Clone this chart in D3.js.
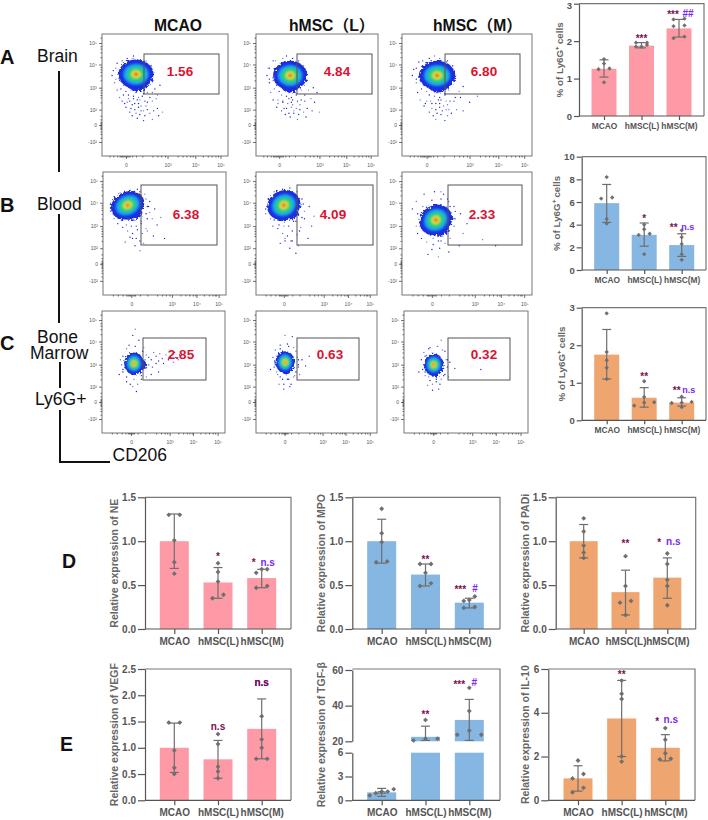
<!DOCTYPE html>
<html><head><meta charset="utf-8">
<script src="https://cdn.jsdelivr.net/npm/d3@7/dist/d3.min.js"></script>
<style>html,body{margin:0;padding:0;background:#fff}svg{display:block}text{font-family:"Liberation Sans","Noto Sans CJK SC",sans-serif}</style>
</head><body><svg id="c" width="708" height="820"></svg>
<script>
// ---------- values ----------
const categories=["MCAO","hMSC(L)","hMSC(M)"];
const brainMean=[1.26,1.88,2.34], brainLow=[1.04,1.82,2.11], brainHigh=[1.5,1.96,2.58];
const brainPts=[[1.52,1.4,1.27,1.25,0.9],[1.96,1.96,1.9,1.85,1.85],[2.6,2.58,2.42,2.4,2.12,2.08]];
const bloodMean=[5.9,3.1,2.2], bloodLow=[4.2,2.1,1.2], bloodHigh=[7.55,4.15,3.2];
const bloodPts=[[8.2,6.4,6.3,4.5,4.1],[4.0,3.6,3.2,3.1,1.4],[3.5,2.9,2.3,1.4,0.9]];
const marrowMean=[1.75,0.6,0.47], marrowLow=[1.1,0.35,0.38], marrowHigh=[2.42,0.87,0.6];
const marrowPts=[[2.85,1.82,1.6,1.4,1.1],[1.04,0.62,0.48,0.47,0.39],[0.63,0.49,0.47,0.46,0.35]];
const neMean=[1,0.53,0.58], neLow=[0.69,0.35,0.47], neHigh=[1.31,0.7,0.68];
const nePts=[[1.3,1.3,1.01,0.76,0.63],[0.75,0.65,0.54,0.39,0.35],[0.68,0.68,0.64,0.49,0.47]];
const mpoMean=[1,0.62,0.3], mpoLow=[0.75,0.49,0.24], mpoHigh=[1.25,0.74,0.35];
const mpoPts=[[1.37,1.09,0.99,0.77,0.76],[0.74,0.74,0.64,0.52,0.49],[0.37,0.33,0.32,0.25,0.24]];
const padiMean=[1,0.42,0.585], padiLow=[0.81,0.16,0.35], padiHigh=[1.19,0.67,0.81];
const padiPts=[[1.26,1.11,0.95,0.87,0.81],[0.83,0.49,0.32,0.3,0.16],[0.86,0.74,0.56,0.49,0.27]];
const vegfMean=[1,0.78,1.36], vegfLow=[0.53,0.42,0.79], vegfHigh=[1.47,1.14,1.93];
const vegfPts=[[1.48,1.48,0.95,0.62,0.5],[1.26,1.07,0.64,0.55,0.42],[1.6,1.16,1.0,0.79,0.79]];
const tgfMean=[1,22.5,32], tgfLow=[0.5,20.5,20.5], tgfHigh=[1.5,28.5,43.5];
const tgfPts=[[1.4,1.1,1.1,0.9,0.6],[32,21.5,21.5,20.5],[50,37,26,23.7,23.7]];
const il10Mean=[1,3.74,2.4], il10Low=[0.42,2,1.8], il10High=[1.58,5.48,3];
const il10Pts=[[1.82,1.2,1,0.57,0.37],[5.47,4.87,4.63,2,1.77],[3.3,2.77,2.15,1.9,1.87]];
const gatePct=[["1.56","4.84","6.80"],["6.38","4.09","2.33"],["2.85","0.63","0.32"]];
const yChanTicks=[11.5,25.4,38,56,75,92.6], yChanLabels=["-10²","0","10²","10³","10⁴","10⁵"];
const xChanTicks=[[19,52,74,94],[23,56,76,94],[23.6,55,74,94]], xChanLabels=["0","10³","10⁴","10⁵"];
const yChanMinor=[15,18,20,22,23,24,25,26,27,28,30,33,44,48,50,52,54,62,66,69,71,73,81,85,88,90,97];
const xChanMinor=[[6,9,12,14,15,16,17,18,20,21,22,24,27,32,40,44,47,50,60,64,67,70,72,80,84,87,90,92],[8,12,16,19,20,21,22,24,25,26,30,36,44,48,51,54,63,67,70,73,75,82,86,89,91,92],[8,12,16,19,21,22,23,24,25,26,29,35,44,48,51,53,62,66,69,71,73,80,84,87,90,92]];
// flow populations, in display channels (0-100): centre x, centre y, radius x, radius y, tilt
const popA=[[27,67,14,12,0],[28,66,14,12,0],[27,66,14,12,0]];
const popB=[[20,73,14,11,-25],[23,73,14,12,-25],[26,61,13,12,-30]];
const popC=[[26,57,8,9,0],[24,58,8,9,0],[24,56,8,9,0]];
// extra low-density lobes below each population: centre x, centre y, radius x, radius y
const lobeA=[[28,60,8,7],[28,59,8,7],[28,59,8,7]];
const lobeB=[[22,67,10,6],[25,67,10,6],[28,54,8,6]];
const lobeC=[[30,56,6,5],[25,54,5,6],[25,52,5,6]];
const tailA=[[15,55],[17,58],[19,53],[21,50],[23,54],[25,49],[27,52],[29,48],[31,53],[33,51],[35,56],[37,58],[14,62],[11,63],[38,69],[39,74],[35,78],[25,82],[16,78],[11,72],[22,45],[26,43],[30,46],[34,45],[18,43],[40,45],[36,38],[31,37],[27,35],[23,39],[29,40]];
const tailB=[[12,66],[15,61],[19,57],[23,56],[27,56],[31,60],[35,66],[37,72],[35,78],[30,84],[25,84],[17,82],[11,76],[8,70],[40,62],[24,46],[30,44],[36,52]];
const tailC=[[16,56],[17,50],[20,46],[26,44],[32,47],[35,54],[35,60],[33,67],[27,71],[20,69],[17,63],[23,40],[29,40]];
const dotsA1=[[20,44],[24,42],[28,46],[31,41],[26,38],[22,36],[33,37],[36,44],[38,48],[40,52],[42,55],[46,58],[44,50],[34,33],[30,34],[38,35],[41,37],[44,39],[48,36],[19,40],[16,45],[14,48],[12,54],[36,60],[37,65],[36,70],[39,62],[43,47],[28,31],[33,29],[40,30],[45,33],[24,33],[35,41],[29,43],[25,47],[21,47],[17,50],[32,49],[36,52],[8,66],[9,70],[10,60],[12,76],[20,80],[28,79],[33,76]];
const dotsA2=[[18,46],[22,44],[27,47],[30,42],[25,39],[21,37],[33,39],[37,46],[40,50],[43,54],[47,56],[50,52],[45,47],[35,34],[31,35],[39,36],[42,39],[46,37],[52,36],[17,40],[14,46],[12,52],[38,60],[39,66],[38,72],[42,62],[28,32],[34,30],[41,32],[24,34],[36,42],[29,44],[33,50],[37,54],[48,44],[9,66],[10,72],[11,60],[14,78],[22,80],[30,80],[35,76]];
const dotsA3=[[19,45],[23,43],[28,46],[32,41],[26,38],[21,36],[34,38],[37,45],[41,48],[44,53],[47,57],[45,48],[35,33],[30,34],[38,35],[42,38],[47,37],[17,41],[14,46],[12,52],[36,60],[37,66],[37,71],[41,62],[26,30],[33,29],[24,33],[35,42],[29,43],[33,50],[36,54],[8,66],[9,71],[11,60],[13,77],[21,80],[29,80],[34,77],[52,44],[58,49]];
const dotsB1=[[9,62],[12,58],[16,55],[20,52],[24,50],[28,53],[32,50],[27,46],[22,47],[35,54],[31,58],[36,62],[38,67],[36,72],[38,76],[34,82],[28,86],[22,85],[14,83],[9,80],[6,74],[6,68],[18,43],[26,40],[33,42],[41,48],[44,57],[47,63],[42,70],[50,46],[30,36]];
const dotsB2=[[12,62],[14,56],[18,54],[22,50],[26,48],[30,52],[34,49],[29,44],[24,44],[37,55],[33,60],[38,63],[40,68],[39,74],[38,78],[34,84],[28,87],[22,86],[15,84],[10,78],[9,72],[8,66],[20,42],[28,38],[35,40],[43,46],[46,56],[48,64],[44,72],[33,34]];
const dotsB3=[[11,56],[12,50],[15,46],[19,43],[24,41],[28,44],[33,42],[29,38],[23,37],[37,46],[36,52],[40,56],[41,62],[41,68],[40,72],[36,76],[30,78],[23,77],[16,72],[12,66],[20,33],[28,31],[36,35],[44,40],[47,50],[50,58],[45,66],[62,45],[72,40],[32,82]];
const dotsC1=[[36,64],[38,62],[40,60],[42,66],[44,63],[46,59],[38,56],[41,54],[44,57],[47,65],[49,61],[50,57],[52,64],[54,60],[56,62],[58,58],[59,66],[60,62],[62,60],[63,64],[35,53],[34,70],[30,76],[25,80],[27,85],[22,72],[17,52],[15,60],[14,48],[20,42],[25,38],[28,34],[32,44],[36,46],[40,48],[46,50]];
const dotsC2=[[34,62],[35,56],[33,50],[31,46],[27,44],[22,44],[18,48],[15,54],[14,62],[16,68],[20,72],[26,73],[31,70],[38,60],[41,55],[36,48],[28,38],[23,36],[19,40],[44,63],[30,79],[24,80],[12,52]];
const dotsC3=[[34,60],[35,54],[33,48],[30,44],[26,42],[21,43],[17,47],[15,52],[14,60],[16,66],[21,70],[27,71],[31,68],[37,58],[41,53],[36,46],[28,36],[23,35],[19,39],[62,52],[12,50],[30,76]];
const flowDots=[[dotsA1,dotsA2,dotsA3],[dotsB1,dotsB2,dotsB3],[dotsC1,dotsC2,dotsC3]];

// ---------- layout ----------
const svg=d3.select("#c");
const defs=svg.append("defs");
const rough=defs.append("filter").attr("id","rough").attr("x","-40%").attr("y","-40%").attr("width","180%").attr("height","180%");
rough.append("feTurbulence").attr("type","fractalNoise").attr("baseFrequency",0.5).attr("numOctaves",2).attr("seed",4).attr("result","n");
rough.append("feDisplacementMap").attr("in","SourceGraphic").attr("in2","n").attr("scale",6);
const soft=defs.append("filter").attr("id","soft").attr("x","-30%").attr("y","-30%").attr("width","160%").attr("height","160%");
soft.append("feGaussianBlur").attr("stdDeviation",1);

const rows=[
 {pop:popA,lobe:lobeA,tail:tailA,top:34,bot:156,x:[[102,228],[256,378],[402,532]],gx:[[144,219],[297,372],[445,520]],gy:[54,94],ly:71,lx:[180,337,484]},
 {pop:popB,lobe:lobeB,tail:tailB,top:172,bot:295,x:[[103,226],[256,377],[402,532]],gx:[[141,217],[297,373],[448,522]],gy:[185,245],ly:214,lx:[186,333,482]},
 {pop:popC,lobe:lobeC,tail:tailC,top:311,bot:433,x:[[102,225],[256,377],[404,528]],gx:[[143,206],[297,359],[448,510]],gy:[338,380],ly:354,lx:[181,330,484]}];
const densityLevels=[[1,"#1c2fe0"],[0.72,"#14a4f0"],[0.52,"#2ccf78"],[0.27,"#e8e030"],[0.12,"#e8402a"]];
rows.forEach((r,ri)=>r.x.forEach((xr,ci)=>{
  const g=svg.append("g");
  const xs=d3.scaleLinear().domain([0,100]).range(xr), ys=d3.scaleLinear().domain([0,100]).range([r.bot,r.top]);
  g.selectAll("circle.d").data(flowDots[ri][ci].concat(r.tail)).join("circle").attr("cx",d=>xs(d[0])).attr("cy",d=>ys(d[1]))
    .attr("r",0.7).attr("fill",(d,i)=>i%3==0?"#6677f0":"#1c28c8");
  const p=r.pop[ci], lb=r.lobe[ci];
  const kx=(xr[1]-xr[0])/100, ky=(r.bot-r.top)/100;
  const rf=g.append("g").attr("filter","url(#rough)");
  rf.append("ellipse").attr("cx",xs(lb[0])).attr("cy",ys(lb[1])).attr("rx",lb[2]*kx).attr("ry",lb[3]*ky).attr("fill",densityLevels[0][1]);
  rf.append("ellipse").attr("rx",p[2]*kx).attr("ry",p[3]*ky).attr("fill",densityLevels[0][1])
    .attr("transform",`translate(${xs(p[0])},${ys(p[1])}) rotate(${p[4]})`);
  g.append("g").attr("transform",`translate(${xs(p[0])},${ys(p[1])}) rotate(${p[4]})`).attr("filter","url(#soft)")
    .selectAll("ellipse").data(densityLevels.slice(1)).join("ellipse")
    .attr("rx",d=>d[0]*p[2]*kx).attr("ry",d=>d[0]*p[3]*ky).attr("fill",d=>d[1]);
  // frame, axes
  g.append("rect").attr("x",xr[0]).attr("y",r.top).attr("width",xr[1]-xr[0]).attr("height",r.bot-r.top).attr("fill","none").attr("stroke","#777").attr("stroke-width",1);
  const ay=d3.axisLeft(ys).tickValues(yChanTicks).tickFormat((d,i)=>yChanLabels[i]).tickSize(3).tickPadding(2);
  const ax=d3.axisBottom(xs).tickValues(xChanTicks[ri]).tickFormat((d,i)=>xChanLabels[i]).tickSize(3).tickPadding(4);
  const ga=g.append("g").attr("transform",`translate(${xr[0]},0)`).call(ay);
  const gb=g.append("g").attr("transform",`translate(0,${r.bot})`).call(ax);
  const gm1=g.append("g").attr("transform",`translate(${xr[0]},0)`).call(d3.axisLeft(ys).tickValues(yChanMinor).tickFormat("").tickSize(1.5));
  const gm2=g.append("g").attr("transform",`translate(0,${r.bot})`).call(d3.axisBottom(xs).tickValues(xChanMinor[ri]).tickFormat("").tickSize(1.5));
  [ga,gb,gm1,gm2].forEach(s=>{s.select(".domain").remove();s.selectAll("line").attr("stroke","#333").attr("stroke-width",0.7);s.selectAll("text").attr("font-size",5).attr("fill","#555");});
  // gate and frequency
  g.append("rect").attr("x",r.gx[ci][0]).attr("y",r.gy[0]).attr("width",r.gx[ci][1]-r.gx[ci][0]).attr("height",r.gy[1]-r.gy[0]).attr("fill","none").attr("stroke","#555").attr("stroke-width",1);
  g.append("text").attr("x",r.lx[ci]).attr("y",r.ly+5).attr("text-anchor","middle").attr("font-size",13.5).attr("font-weight","bold").attr("fill","#dc1230").text(gatePct[ri][ci]);
}));

// column titles and left labels
const label=(x,y,t,fs,w,a)=>svg.append("text").attr("x",x).attr("y",y).attr("font-size",fs).attr("font-weight",w||"normal").attr("text-anchor",a||"start").attr("fill","#111").text(t);
label(178,31,"MCAO",15.7,"bold","middle");label(289,31,"hMSC（L）",15.7,"bold");label(433,31,"hMSC（M）",15.7,"bold");
label(0,64,"A",20,"bold");label(0,212,"B",20,"bold");label(0,350,"C",20,"bold");
label(37,62,"Brain",17.5);label(37,210,"Blood",17.5);label(37,343,"Bone",17.5);label(30,359,"Marrow",17.5);label(35,405,"Ly6G+",17.5);label(112.5,461,"CD206",17.5);
label(62,568,"D",19.5,"bold");label(60,751,"E",19.5,"bold");
[[59,71,59,172],[59,214,59,323],[60,362,60,388],[60,410,60,462],[59,462,110,462]].forEach(l=>
  svg.append("line").attr("x1",l[0]).attr("y1",l[1]).attr("x2",l[2]).attr("y2",l[3]).attr("stroke","#111").attr("stroke-width",2));

// ---------- bar panels ----------
const pink="#fe9aa6", blue="#86b6e2", orange="#eea570";
const dark="#7a0f50", purple="#7a28f0";
const panels=[
 {title:"% of Ly6G⁺ cells",mean:brainMean,low:brainLow,high:brainHigh,pts:brainPts,color:pink,dom:[0,3],ticks:[0,1,2,3],fmt:"d",box:[579,704,3.7,116],c:[604,679],w:25,ylx:563,fs:8.4,tfs:9.5,small:true,thr:2,nudgeTop:2.2,
  ann:[["***",1,2.09,0,dark],["***",2,2.73,-6,dark],["##",2,2.73,9,purple]]},
 {title:"% of Ly6G⁺ cells",mean:bloodMean,low:bloodLow,high:bloodHigh,pts:bloodPts,color:blue,dom:[0,10],ticks:[0,2,4,6,8,10],fmt:"d",box:[581.7,706,156.7,270],c:[606.7,681.7],w:25,ylx:560,fs:8.4,tfs:9.5,small:true,
  ann:[["*",1,4.6,0,dark],["**",2,3.83,-8,dark],["n.s",2,3.83,6,purple]]},
 {title:"% of Ly6G⁺ cells",mean:marrowMean,low:marrowLow,high:marrowHigh,pts:marrowPts,color:orange,dom:[0,3],ticks:[0,1,2,3],fmt:"d",box:[581.7,706,307.7,420.3],c:[606.7,681.7],w:25,ylx:565,fs:8.4,tfs:9.5,small:true,wide:10,
  ann:[["**",1,1.19,0,dark],["**",2,0.81,-5,dark],["n.s",2,0.81,7,purple]]},
 {title:"Relative expression of NE",mean:neMean,low:neLow,high:neHigh,pts:nePts,color:pink,dom:[0,1.5],ticks:[0,0.5,1,1.5],fmt:".1f",box:[145,291,497.3,629],c:[174.3,261.7],w:29,ylx:118,fs:10,tfs:10,
  ann:[["*",1,0.835,0,dark],["*",2,0.76,-8,dark],["n.s",2,0.76,6,purple]]},
 {title:"Relative expression of MPO",mean:mpoMean,low:mpoLow,high:mpoHigh,pts:mpoPts,color:blue,dom:[0,1.5],ticks:[0,0.5,1,1.5],fmt:".1f",box:[352.3,500,497.3,629],c:[381.7,469.3],w:29,ylx:325,fs:10,tfs:10,
  ann:[["**",1,0.8,0,dark],["***",2,0.46,-9,dark],["#",2,0.46,5.7,purple]]},
 {title:"Relative expression of PADi",mean:padiMean,low:padiLow,high:padiHigh,pts:padiPts,color:orange,dom:[0,1.5],ticks:[0,0.5,1,1.5],fmt:".1f",box:[555.7,695.7,497.3,629],c:[583.7,667.3],w:28,ylx:529,fs:10,tfs:10,
  ann:[["**",1,0.98,0,dark],["*",2,0.99,-8,dark],["n.s",2,1.0,6,purple]]},
 {title:"Relative expression of VEGF",mean:vegfMean,low:vegfLow,high:vegfHigh,pts:vegfPts,color:pink,dom:[0,2.5],ticks:[0,0.5,1,1.5,2,2.5],fmt:".1f",box:[145,291,669,800.3],c:[174.3,261.7],w:29,ylx:118,fs:10,tfs:10,
  ann:[["n.s",1,1.41,0,dark],["n.s",2,2.24,0,purple],["n.s",2,2.24,0,dark]]},
 {title:"Relative expression of TGF-β",mean:tgfMean,low:tgfLow,high:tgfHigh,pts:tgfPts,color:blue,brk:{lo:[0,6],hi:[20,60],yLo:[800.3,752.7],yHi:[741.3,670],tl:[0,3,6],th:[20,40,60]},fmt:"d",box:[352.3,500,669,800.3],c:[381.7,469.3],w:29,ylx:325,fs:10,tfs:10,wide:12,
  ann:[["n.s",0,1.1,0,"#555",6],["**",1,35.3,0,dark],["***",2,52.5,-10,dark],["#",2,53.2,5,purple]]},
 {title:"Relative expression of IL-10",mean:il10Mean,low:il10Low,high:il10High,pts:il10Pts,color:orange,dom:[0,6],ticks:[0,2,4,6],fmt:"d",box:[548.3,695,669,800.3],c:[578,665.3],w:29,ylx:529,fs:10,tfs:10,thr:5,
  ann:[["**",1,5.76,0,dark],["*",2,3.65,-8,dark],["n.s",2,3.68,5.5,purple]]}];

function swarm(vals,y,p){ // spread near-equal values sideways, in sorted bins
  const s=[...vals].sort((a,b)=>a-b), out=[]; let bin=[s[0]]; const thr=p.thr||3.6;
  const flush=()=>{const n=bin.length,st=5.5;bin.forEach((v,i)=>{
    const k=i-(n-1)/2;
    let o=n==1?0:(p.wide?k/((n-1)/2)*p.wide:(n%2?k:k*(n==2?2:1.33))*st);
    out.push({v,o});});};
  for(let i=1;i<s.length;i++){ if(Math.abs(y(s[i])-y(s[i-1]))<thr) bin.push(s[i]); else {flush();bin=[s[i]];} }
  flush(); return out;
}
panels.forEach(p=>{
  const [L,R,T,B]=p.box, g=svg.append("g");
  const x=d3.scalePoint().domain(categories).range(p.c);
  let y, sLo, sHi;
  if(p.brk){ sLo=d3.scaleLinear().domain(p.brk.lo).range(p.brk.yLo); sHi=d3.scaleLinear().domain(p.brk.hi).range(p.brk.yHi); y=v=>v<=6?sLo(v):sHi(v); }
  else { y=d3.scaleLinear().domain(p.dom).range([B,T]); }
  const f=d3.format(p.fmt);
  // bars
  categories.forEach((c,i)=>{
    const m=p.mean[i], bar=(a,b)=>g.append("rect").attr("x",x(c)-p.w/2).attr("width",p.w).attr("y",y(b)).attr("height",y(a)-y(b)).attr("fill",p.color);
    if(p.brk&&m>6){bar(0,6);bar(20,m);} else bar(0,m);
  });
  // frame top/right
  g.append("path").attr("d",`M${L},${T}H${R}V${B}`).attr("fill","none").attr("stroke","#777").attr("stroke-width",1.2);
  // axes
  const styleAxis=s=>{s.selectAll("path,line").attr("stroke","#555").attr("stroke-width",1.2);s.selectAll("text").attr("font-size",p.tfs).attr("font-weight","bold").attr("fill","#555");};
  if(p.brk){
    [[sLo,p.brk.tl],[sHi,p.brk.th]].forEach(a=>g.append("g").attr("transform",`translate(${L},0)`).call(d3.axisLeft(a[0]).tickValues(a[1]).tickFormat(f).tickSize(7).tickPadding(2).tickSizeOuter(0)).call(styleAxis));
  } else {
    const ya=g.append("g").attr("transform",`translate(${L},0)`).call(d3.axisLeft(y).tickValues(p.ticks).tickFormat(f).tickSize(p.small?5:7).tickPadding(2).tickSizeOuter(0)).call(styleAxis);
    if(p.nudgeTop) ya.selectAll(".tick:last-of-type text").attr("y",p.nudgeTop);
  }
  const xa=g.append("g").attr("transform",`translate(0,${B})`).call(d3.axisBottom(x).tickSize(p.small?4:5).tickPadding(p.small?3:4));
  xa.select(".domain").remove();
  xa.call(styleAxis); xa.selectAll("text").attr("font-size",p.fs);
  g.append("line").attr("x1",L).attr("x2",R).attr("y1",B).attr("y2",B).attr("stroke","#555").attr("stroke-width",1.2);
  // error bars and points
  categories.forEach((c,i)=>{
    const cx=x(c), eb=g.append("g").attr("stroke","#6e6e6e").attr("stroke-width",1.2);
    eb.append("line").attr("x1",cx).attr("x2",cx).attr("y1",y(p.low[i])).attr("y2",y(p.high[i]));
    [p.low[i],p.high[i]].forEach(v=>eb.append("line").attr("x1",cx-4.5).attr("x2",cx+4.5).attr("y1",y(v)).attr("y2",y(v)));
    g.selectAll(null).data(swarm(p.pts[i],y,p)).join("path")
      .attr("d",d3.symbol(d3.symbolDiamond2,p.small?12:15)).attr("fill","#6f6f6f")
      .attr("transform",d=>`translate(${cx+d.o},${y(d.v)})`);
  });
  // y title
  g.append("text").attr("transform",`translate(${p.ylx},${(T+B)/2}) rotate(-90)`).attr("text-anchor","middle")
    .attr("font-size",p.small?9.8:10.5).attr("font-weight","bold").attr("fill","#666").text(p.title);
  // significance marks
  p.ann.forEach(a=>{
    const star=a[0][0]=="*", fs=a[5]||(star?10:(a[0][0]=="#"?10:(p.small?9:10)));
    g.append("text").attr("x",x(categories[a[1]])+a[3]).attr("y",y(a[2])+fs*(star?0.42:0.35)).attr("text-anchor","middle")
      .attr("font-size",fs).attr("font-weight","bold").attr("fill",a[4]).text(a[0]);
  });
});
</script></body></html>
